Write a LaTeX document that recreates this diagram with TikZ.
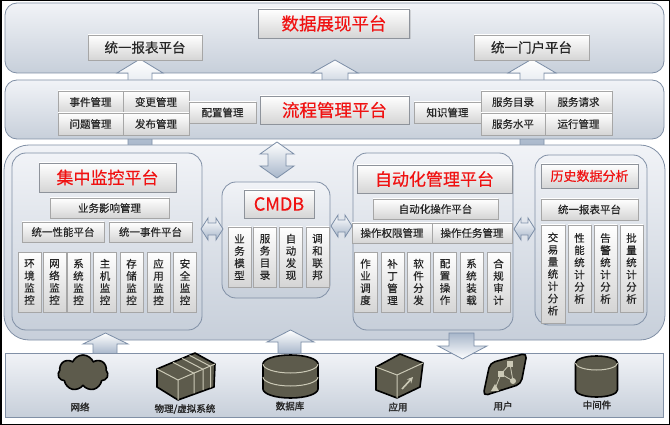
\documentclass[tikz,border=0pt]{standalone}
\usepackage{fontspec}
\setmainfont{Noto Sans CJK SC}[FakeBold=0.4]
\newfontfamily\capfont{Noto Sans CJK SC}[FakeBold=1.6]
\usetikzlibrary{shadows,shapes.symbols}

\definecolor{laybd}{HTML}{8190A6}
\definecolor{laytop}{HTML}{F1F3F7}
\definecolor{laybot}{HTML}{C7CFDA}
\definecolor{boxbd}{HTML}{A6A6A6}
\definecolor{boxbot}{HTML}{D5D5D5}
\definecolor{titbd}{HTML}{8E939B}
\definecolor{titred}{HTML}{F01212}
\definecolor{txt}{HTML}{262626}
\definecolor{arrbd}{HTML}{7C8EA7}
\definecolor{arrbot}{HTML}{A7B6CA}
\definecolor{iconfill}{HTML}{5D5B4C}
\definecolor{iconln}{HTML}{CBC9B6}

\begin{document}
\begin{tikzpicture}[x=1pt,y=-1pt]

% Styles
\tikzset{
    layer/.style={draw=laybd, line width=0.8pt, top color=laytop, bottom color=laybot},
    panel/.style={layer, rounded corners=14pt},
    fsize/.style={font=\fontsize{#1}{#1}\selectfont},
    txtbox/.style={draw=boxbd, top color=white, bottom color=boxbot, inner sep=0pt,
        text=txt, fsize=10.5},
    titlebox/.style={txtbox, draw=titbd, text=titred,
        drop shadow={opacity=0.25, shadow xshift=1.2pt, shadow yshift=-1.2pt}},
    vbox/.style={txtbox, align=center, minimum width=23pt,
        font=\fontsize{10.5}{12.2}\selectfont},
    blockarrow/.style={draw=arrbd, line width=0.8pt, top color=white, bottom color=arrbot},
    icon/.style={draw=black, line width=1.6pt, fill=iconfill, line join=round},
    iconline/.style={draw=iconln, line width=1pt},
    caption/.style={font=\capfont\fontsize{9.5}{9.5}\selectfont, text=txt}
}

\useasboundingbox (0,0) rectangle (670,425);
\fill[white] (0,0) rectangle (670,425);

% Display layer
\node[layer, rounded corners=12pt, minimum width=659pt, minimum height=70pt] (showlayer) at (334.5,38) {};

\draw[blockarrow] (128,147) -- ++(0,-74) -- ++(-11,0) -- ++(23,-14) -- ++(23,14) -- ++(-11,0) -- ++(0,74) -- cycle;
\draw[blockarrow] (322,100) -- ++(0,-27) -- ++(-10,0) -- ++(23,-13) -- ++(23,13) -- ++(-10,0) -- ++(0,27) -- cycle;
\draw[blockarrow] (520,147) -- ++(0,-74) -- ++(-12,0) -- ++(24,-14) -- ++(24,14) -- ++(-12,0) -- ++(0,74) -- cycle;

% Process layer and main layer
\node[layer, rounded corners=12pt, minimum width=659pt, minimum height=59pt] (flowlayer) at (334.5,109.5) {};
\node[layer, rounded corners=25pt, minimum width=661pt, minimum height=195pt] (mainlayer) at (334.5,242.5) {};

\node[titlebox, fsize=17.5, minimum width=151pt, minimum height=29pt] (show) at (334,23.5) {数据展现平台};
\node[txtbox, fsize=13.5, minimum width=114pt, minimum height=25pt] (report) at (145,47.5) {统一报表平台};
\node[txtbox, fsize=13.5, minimum width=115pt, minimum height=25pt] (portal) at (531.5,47.5) {统一门户平台};

\node[txtbox, minimum width=65pt, minimum height=22pt] (event) at (90.5,102) {事件管理};
\node[txtbox, minimum width=66pt, minimum height=22pt] (change) at (156,102) {变更管理};
\node[txtbox, minimum width=65pt, minimum height=22pt] (problem) at (90.5,124) {问题管理};
\node[txtbox, minimum width=66pt, minimum height=22pt] (release) at (156,124) {发布管理};
\node[txtbox, minimum width=67pt, minimum height=21pt] (config) at (222.5,112.5) {配置管理};
\node[titlebox, fsize=17.5, minimum width=149pt, minimum height=28pt] (flow) at (334.5,110) {流程管理平台};
\node[txtbox, minimum width=67pt, minimum height=21pt] (know) at (447.5,112.5) {知识管理};
\node[txtbox, minimum width=64pt, minimum height=22pt] (catalog) at (513,102) {服务目录};
\node[txtbox, minimum width=67pt, minimum height=22pt] (request) at (578.5,102) {服务请求};
\node[txtbox, minimum width=64pt, minimum height=22pt] (level) at (513,124) {服务水平};
\node[txtbox, minimum width=67pt, minimum height=22pt] (operate) at (578.5,124) {运行管理};

\draw[blockarrow] (277,142) -- ++(17,12) -- ++(-8,0) -- ++(0,12) -- ++(8,0) -- ++(-17,12) -- ++(-17,-12) -- ++(8,0) -- ++(0,-12) -- ++(-8,0) -- cycle;

% Monitoring panel
\node[panel, minimum width=190pt, minimum height=177pt] (monpanel) at (107,241.5) {};
\node[titlebox, fsize=17, minimum width=137pt, minimum height=29pt] (mon) at (107.5,177.5) {集中监控平台};
\node[txtbox, minimum width=119pt, minimum height=20pt] (impact) at (109.5,208) {业务影响管理};
\node[txtbox, minimum width=82pt, minimum height=20pt] (perf) at (63,232) {统一性能平台};
\node[txtbox, minimum width=83pt, minimum height=20pt] (events) at (150.5,232) {统一事件平台};
\node[vbox, minimum height=60pt] (envmon) at (29.5,282) {环\\境\\监\\控};
\node[vbox, minimum height=60pt] (netmon) at (54.5,282) {网\\络\\监\\控};
\node[vbox, minimum height=60pt] (sysmon) at (78.5,282) {系\\统\\监\\控};
\node[vbox, minimum height=60pt] (hostmon) at (105,282) {主\\机\\监\\控};
\node[vbox, minimum height=60pt] (stormon) at (131.5,282) {存\\储\\监\\控};
\node[vbox, minimum height=60pt] (appmon) at (158.5,282) {应\\用\\监\\控};
\node[vbox, minimum height=60pt] (secmon) at (185,282) {安\\全\\监\\控};

% CMDB panel
\node[panel, minimum width=108pt, minimum height=116pt] (cmdbpanel) at (276,240) {};
\node[titlebox, fsize=18, minimum width=70pt, minimum height=28pt] (cmdb) at (279,204) {CMDB};
\node[vbox, minimum height=60pt] (model) at (239.5,257) {业\\务\\模\\型};
\node[vbox, minimum height=60pt] (svcdir) at (265,257) {服\\务\\目\\录};
\node[vbox, minimum height=60pt] (discover) at (291,257) {自\\动\\发\\现};
\node[vbox, minimum height=60pt] (federate) at (317.5,257) {调\\和\\联\\邦};

% Automation panel
\node[panel, minimum width=160pt, minimum height=177pt] (autopanel) at (433,241.5) {};
\node[titlebox, fsize=17, minimum width=155pt, minimum height=28pt] (auto) at (434.5,179) {自动化管理平台};
\node[txtbox, minimum width=125pt, minimum height=20pt] (autoop) at (435.5,209) {自动化操作平台};
\node[txtbox, minimum width=80pt, minimum height=20pt] (perm) at (392,233) {操作权限管理};
\node[txtbox, minimum width=80pt, minimum height=20pt] (task) at (472,233) {操作任务管理};
\node[vbox, minimum height=60pt] (sched) at (365.5,282) {作\\业\\调\\度};
\node[vbox, minimum height=60pt] (patch) at (392.5,282) {补\\丁\\管\\理};
\node[vbox, minimum height=60pt] (deploy) at (418.5,282) {软\\件\\分\\发};
\node[vbox, minimum height=60pt] (cfgop) at (445,282) {配\\置\\操\\作};
\node[vbox, minimum height=60pt] (install) at (471.5,282) {系\\统\\装\\载};
\node[vbox, minimum height=60pt] (audit) at (498.5,282) {合\\规\\审\\计};

% History panel
\node[panel, minimum width=112pt, minimum height=170pt] (histpanel) at (591,240) {};
\node[titlebox, fsize=13, minimum width=97pt, minimum height=24pt] (hist) at (589.5,176) {历史数据分析};
\node[txtbox, minimum width=97pt, minimum height=21pt] (histrep) at (589.5,209.5) {统一报表平台};
\node[vbox, minimum width=24pt, minimum height=98pt] (trade) at (553,274) {交\\易\\量\\统\\计\\分\\析};
\node[vbox, minimum height=87pt] (perfstat) at (579.5,268.5) {性\\能\\统\\计\\分\\析};
\node[vbox, minimum height=87pt] (alarm) at (605.5,268.5) {告\\警\\统\\计\\分\\析};
\node[vbox, minimum height=87pt] (batch) at (631.5,268.5) {批\\量\\统\\计\\分\\析};

% Arrows between panels
\draw[blockarrow] (201,229) -- ++(7,-11) -- ++(0,5) -- ++(8,0) -- ++(0,-5) -- ++(7,11) -- ++(-7,11) -- ++(0,-5) -- ++(-8,0) -- ++(0,5) -- cycle;
\draw[blockarrow] (331,226) -- ++(7,-11) -- ++(0,5) -- ++(7,0) -- ++(0,-5) -- ++(7,11) -- ++(-7,11) -- ++(0,-5) -- ++(-7,0) -- ++(0,5) -- cycle;
\draw[blockarrow] (514,229) -- ++(7,-11) -- ++(0,5) -- ++(7,0) -- ++(0,-5) -- ++(7,11) -- ++(-7,11) -- ++(0,-5) -- ++(-7,0) -- ++(0,5) -- cycle;

% Base layer
\draw[blockarrow] (93,354) -- ++(0,-10) -- ++(-10,0) -- ++(22.5,-11) -- ++(22.5,11) -- ++(-11,0) -- ++(0,10) -- cycle;
\draw[blockarrow] (278,354) -- ++(0,-12) -- ++(-11,0) -- ++(23.5,-12) -- ++(23.5,12) -- ++(-13,0) -- ++(0,12) -- cycle;
\node[layer, minimum width=658pt, minimum height=64pt] (baselayer) at (334,385) {};
\draw[blockarrow, top color=arrbot, bottom color=white] (449,333) -- ++(0,13) -- ++(-11,0) -- ++(24.5,13) -- ++(24.5,-13) -- ++(-13,0) -- ++(0,-13) -- cycle;

% Icons
\node[cloud, cloud puffs=7, cloud puff arc=135, aspect=1.35, icon, inner sep=0pt,
    minimum width=50pt, minimum height=36pt] (neticon) at (83,373) {};

\draw[icon] (157,369) -- (195,353) -- (215,364) -- (214,387) -- (178,400) -- (157,387) -- cycle;
\draw[iconline] (157,369) -- (178,380) -- (215,364) (178,380) -- (178,400);
\draw[iconline] (173,362.3) -- (194,373.3) -- (194,393.4)
    (182.2,358.4) -- (203.2,369.4) -- (203.2,390.2)
    (189.5,355.3) -- (210.5,366.3) -- (210.5,387.6);

\draw[icon] (263,364) -- (263,389) arc[start angle=180, end angle=0, x radius=27.5, y radius=9]
    -- (318,364) arc[start angle=0, end angle=-180, x radius=27.5, y radius=9] -- cycle;
\draw[iconline] (263,364) arc[start angle=180, end angle=0, x radius=27.5, y radius=9];
\draw[iconline] (263,377) arc[start angle=180, end angle=0, x radius=27.5, y radius=9];

\draw[icon] (376,367) -- (400,354) -- (423,363) -- (420,387) -- (397,398) -- (376,390) -- cycle;
\draw[iconline] (376,367) -- (397,375) -- (423,363) (397,375) -- (397,398);
\draw[iconline, line width=1.6pt, -stealth] (402,389) -- (413,377);

\draw[icon, rounded corners=5pt] (490,363) -- (527,353) -- (521,384) -- (483,396) -- cycle;
\draw[iconline, line width=0.8pt] (501,374) -- (510,364) (510,364) -- (513,381) (501,374) -- (495,389) (501,374) -- (513,381);
\fill[iconln] (507,361) rectangle (513,367);
\fill[iconln] (498,371) rectangle (504,377);
\fill[iconln] (513,381) circle (3);
\fill[iconln] (491,391) -- (499,391) -- (495,384) -- cycle;

\draw[icon] (575.5,363) -- (575.5,390) arc[start angle=180, end angle=0, x radius=21, y radius=7]
    -- (617.5,363) arc[start angle=0, end angle=-180, x radius=21, y radius=7] -- cycle;
\draw[iconline] (575.5,363) arc[start angle=180, end angle=0, x radius=21, y radius=7];

% Labels
\node[caption] (netcap) at (80,407) {网络};
\node[caption] (syscap) at (185,409) {物理/虚拟系统};
\node[caption] (dbcap) at (290,406) {数据库};
\node[caption] (appcap) at (398,407) {应用};
\node[caption] (usercap) at (503,406) {用户};
\node[caption] (midcap) at (597,405) {中间件};

\draw[black, line width=1.5pt] (0.75,0.75) rectangle (669.25,424.25);

\end{tikzpicture}
\end{document}
